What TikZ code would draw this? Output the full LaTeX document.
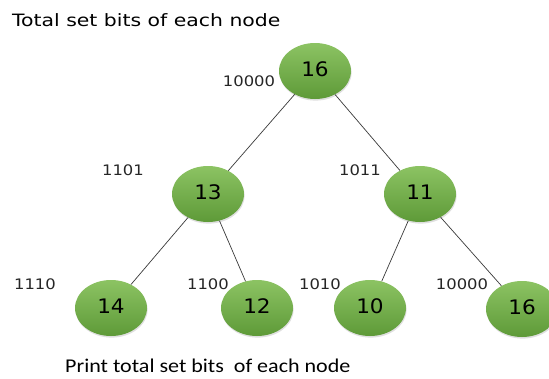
\documentclass[tikz,border=0pt]{standalone}
\usepackage{fontspec}
\setmainfont{DejaVu Sans}
\newfontfamily\capfont{Carlito}
\usetikzlibrary{shapes.geometric,shadows}
\definecolor{leafTop}{HTML}{8CC363}
\definecolor{leafBot}{HTML}{5E9A38}
\definecolor{edgeGray}{HTML}{3A3A3A}
\newcommand{\wide}[2]{\scalebox{#1}[1]{#2}}
\begin{document}
\begin{tikzpicture}[x=1pt,y=-1pt,
  treenode/.style={ellipse, minimum width=72pt, minimum height=56pt, inner sep=0pt,
    top color=leafTop, bottom color=leafBot, draw=none,
    drop shadow={shadow xshift=0.6pt, shadow yshift=-1.6pt, opacity=0.25},
    font=\fontsize{20}{20}\selectfont, text=black},
  bits/.style={font=\fontsize{14.5}{14.5}\selectfont, text=black!85, inner sep=0pt},
  edge/.style={draw=edgeGray, line width=0.7pt}]
\useasboundingbox (0,0) rectangle (549,378);
\clip (0,0) rectangle (549,378);
\fill[white] (0,0) rectangle (549,378);

% heading and caption
\node[anchor=west, font=\fontsize{17}{17}\selectfont, inner sep=0pt] (title) at (12,20) {\wide{1.2}{Total set bits of each node}};
\node[anchor=west, font=\capfont\fontsize{19.5}{19.5}\selectfont, inner sep=0pt] (caption) at (65,366) {\wide{1.13}{Print total set bits\ \ of each node}};

% tree nodes
\node[treenode] (r)  at (315,71)  {\raisebox{4pt}{\wide{1.08}{16}}};
\node[treenode] (a)  at (208,194) {\raisebox{4pt}{\wide{1.08}{13}}};
\node[treenode] (b)  at (420,194) {\raisebox{4pt}{\wide{1.08}{11}}};
\node[treenode] (aa) at (111,308) {\raisebox{4pt}{\wide{1.08}{14}}};
\node[treenode] (ab) at (257,308) {\raisebox{4pt}{\wide{1.08}{12}}};
\node[treenode] (ba) at (370,308) {\raisebox{4pt}{\wide{1.08}{10}}};
\node[treenode] (bb) at (522,309) {\raisebox{4pt}{\wide{1.08}{16}}};

% connectors
\draw[edge] (r) -- (a);
\draw[edge] (r) -- (b);
\draw[edge] (a) -- (aa);
\draw[edge] (a) -- (ab);
\draw[edge] (b) -- (ba);
\draw[edge] (b) -- (bb);

% binary labels
\node[bits] (lr)  at (249,81)  {\wide{1.13}{10000}};
\node[bits] (la)  at (123,170) {\wide{1.13}{1101}};
\node[bits] (lb)  at (360,170) {\wide{1.13}{1011}};
\node[bits] (laa) at (35,284)  {\wide{1.13}{1110}};
\node[bits] (lab) at (208,284) {\wide{1.13}{1100}};
\node[bits] (lba) at (320,284) {\wide{1.13}{1010}};
\node[bits] (lbb) at (462,284) {\wide{1.13}{10000}};
\end{tikzpicture}
\end{document}
